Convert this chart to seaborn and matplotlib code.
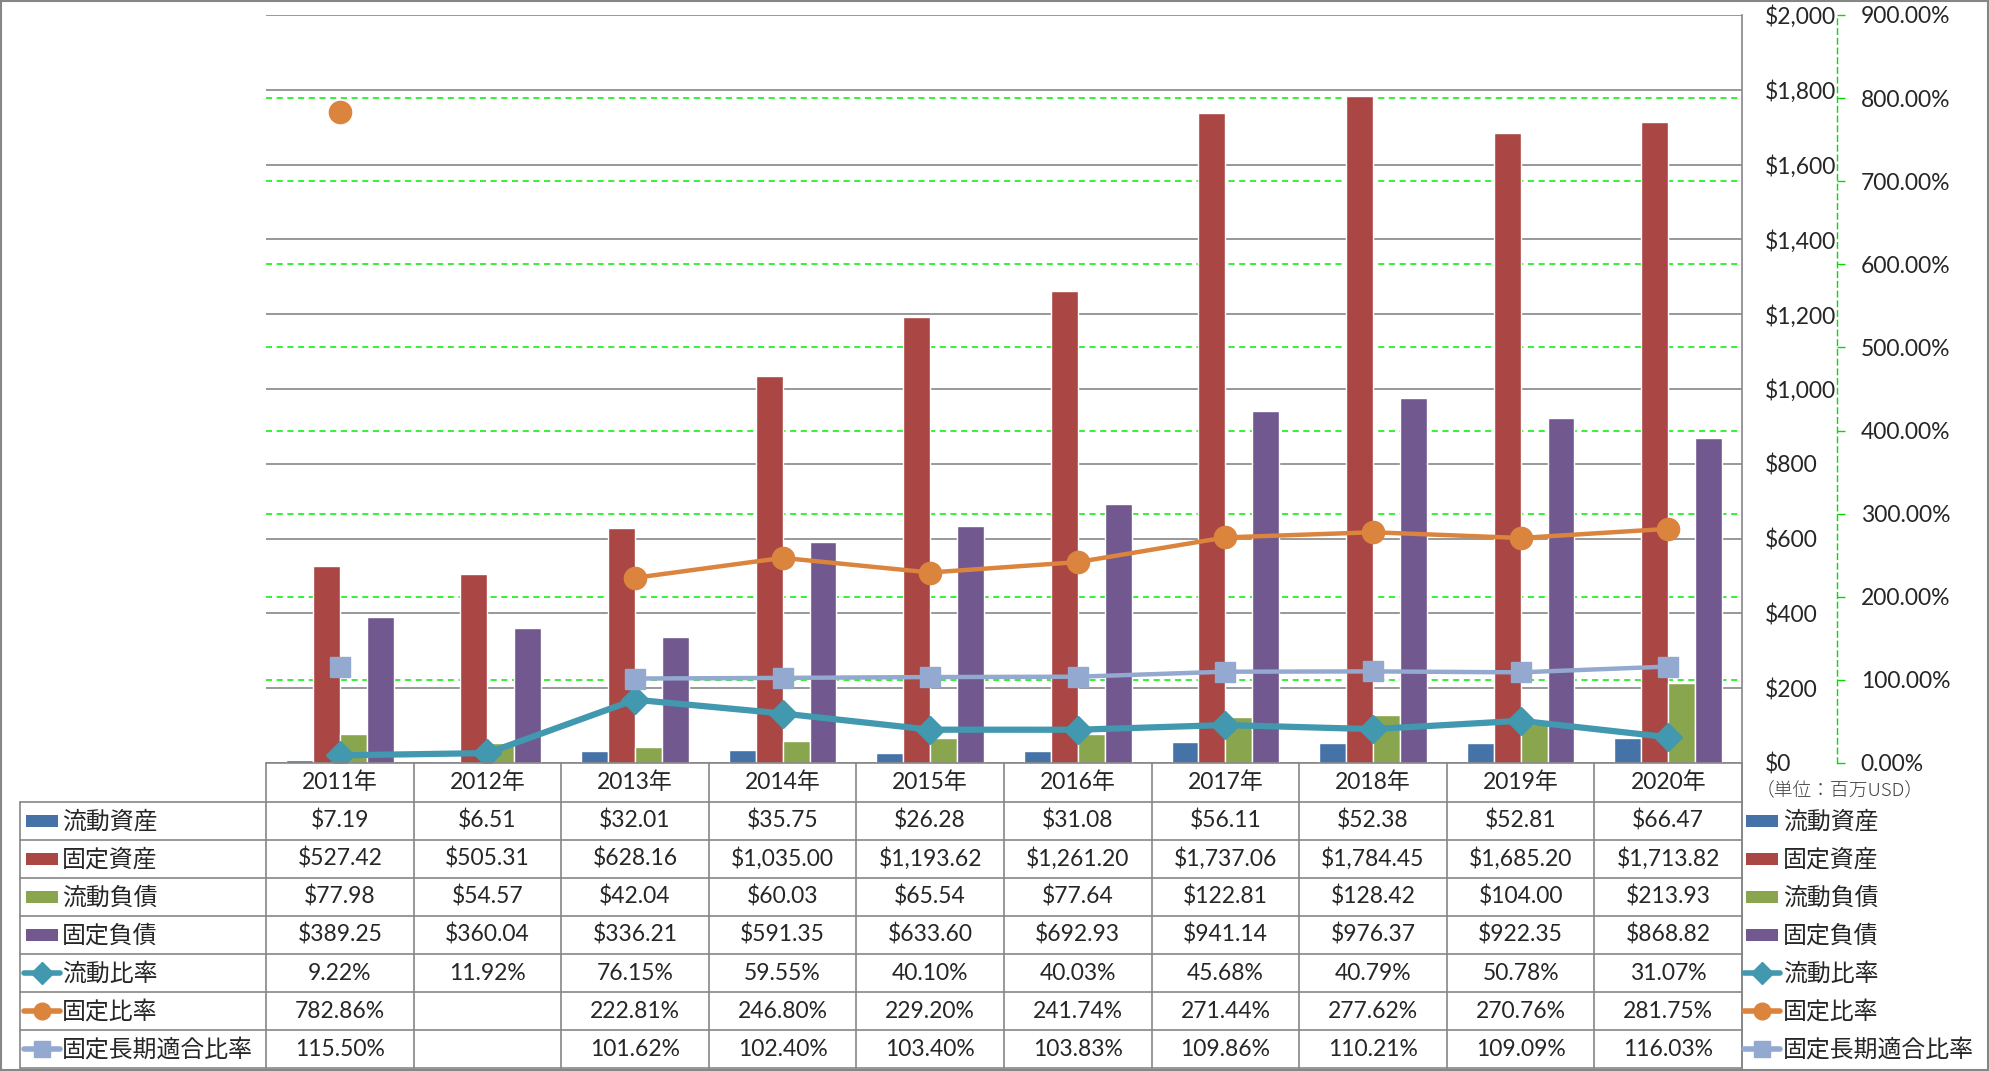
import matplotlib
matplotlib.use('Agg')

import numpy as np
import pandas as pd
import matplotlib.pyplot as plt
import seaborn as sns
from matplotlib.lines import Line2D
from matplotlib.patches import Rectangle

years = ['2011年', '2012年', '2013年', '2014年', '2015年', '2016年', '2017年', '2018年', '2019年', '2020年']
current_assets = [7.19, 6.51, 32.01, 35.75, 26.28, 31.08, 56.11, 52.38, 52.81, 66.47]
fixed_assets = [527.42, 505.31, 628.16, 1035.00, 1193.62, 1261.20, 1737.06, 1784.45, 1685.20, 1713.82]
current_liab = [77.98, 54.57, 42.04, 60.03, 65.54, 77.64, 122.81, 128.42, 104.00, 213.93]
fixed_liab = [389.25, 360.04, 336.21, 591.35, 633.60, 692.93, 941.14, 976.37, 922.35, 868.82]
current_ratio = [9.22, 11.92, 76.15, 59.55, 40.10, 40.03, 45.68, 40.79, 50.78, 31.07]
fixed_ratio = [782.86, np.nan, 222.81, 246.80, 229.20, 241.74, 271.44, 277.62, 270.76, 281.75]
fixed_lt_ratio = [115.50, np.nan, 101.62, 102.40, 103.40, 103.83, 109.86, 110.21, 109.09, 116.03]

bar_names = ['流動資産', '固定資産', '流動負債', '固定負債']
line_names = ['流動比率', '固定比率', '固定長期適合比率']
bar_colors = ['#4572A7', '#AA4643', '#89A54E', '#71588F']
line_colors = ['#4198AF', '#DB843D', '#93A9CF']
line_markers = ['D', 'o', 's']
line_ms = [14.5, 16, 15]

W, H = 1989, 1071


def fx(x):
    return x / W


def fy(y):
    return 1 - y / H


sns.set_style('white')
plt.rcParams['font.family'] = ['Lato', 'Noto Sans CJK JP']
FS = 16.5

df = pd.DataFrame({
    'year': years * 4,
    'item': sum([[n] * len(years) for n in bar_names], []),
    'value': current_assets + fixed_assets + current_liab + fixed_liab,
})

fig = plt.figure(figsize=(W / 100, H / 100), dpi=100)
ax = fig.add_axes([fx(266), fy(763), (1742 - 266) / W, (763 - 15) / H])

sns.barplot(data=df, x='year', y='value', hue='item', hue_order=bar_names,
            palette=bar_colors, width=0.73, gap=0, saturation=1, ax=ax, legend=False)
ax.set_xlim(-0.5, len(years) - 0.5)
ax.set_ylim(0, 2000)
ax.set_xlabel('')
ax.set_ylabel('')
ax.yaxis.grid(True, color='#868686', lw=1.2)
ax.set_axisbelow(True)
for s in ['top', 'left', 'bottom']:
    ax.spines[s].set_visible(False)
ax.spines['right'].set_color('#868686')
ax.spines['right'].set_linewidth(1.2)

# secondary axis for ratios
ax2 = ax.twinx()
ax2.set_ylim(0, 900)
pct_ticks = np.arange(0, 901, 100)
ax2.set_yticks(pct_ticks)
ax2.set_yticklabels([f'{v:.2f}%' for v in pct_ticks])
ax2.tick_params(axis='y', direction='out', length=6, width=1, color='#00DD00', pad=11, labelsize=FS)
for s in ['top', 'left', 'bottom']:
    ax2.spines[s].set_visible(False)
ax2.spines['right'].set_position(('outward', 68.4))
ax2.spines['right'].set_color('#00DD00')
ax2.spines['right'].set_linestyle((0, (4, 3)))
ax2.spines['right'].set_linewidth(1)
ax2.patch.set_visible(False)

# primary labels sit on the right too (set after twinx, which resets them)
ax.yaxis.tick_right()
ax.set_yticks(np.arange(0, 2001, 200))
ax.set_yticklabels([f'${v:,.0f}' for v in np.arange(0, 2001, 200)])
ax.tick_params(axis='y', length=0, pad=16.5, labelsize=FS, left=False, labelleft=False,
               right=False, labelright=True)
ax.tick_params(axis='x', length=0, labelbottom=False)

# green dashed secondary gridlines (drawn on primary axis so they stay behind bars)
for p in pct_ticks[1:-1]:
    ax.axhline(p * 2000 / 900, color='#00EE00', ls=(0, (4, 3)), lw=1.1, zorder=0.6)

xpos = np.arange(len(years))
ratios = [current_ratio, fixed_ratio, fixed_lt_ratio]
lws = [4.5, 3.2, 3.2]
for vals, c, m, ms, lw in zip(ratios, line_colors, line_markers, line_ms, lws):
    ax2.plot(xpos, vals, color=c, lw=lw, marker=m, ms=ms, mec=c, mfc=c, zorder=3)

# ---- data table ----
gray = '#868686'
rows_y = [763, 802, 840, 878, 916, 954, 992, 1030, 1068]
col_x = [266 + (1742 - 266) / 10 * k for k in range(11)]


def fline(x0, y0, x1, y1, **kw):
    fig.add_artist(Line2D([fx(x0), fx(x1)], [fy(y0), fy(y1)], transform=fig.transFigure,
                          color=gray, lw=1.2, **kw))


fline(266, 763, 1742, 763)
for y in rows_y[1:]:
    fline(20, y, 1742, y)
fline(20, 802, 20, 1068)
for x in col_x:
    fline(x, 763, x, 1068)
fline(1742, 763, 1742, 1068)

for i, yl in enumerate(years):
    cx = (col_x[i] + col_x[i + 1]) / 2
    fig.text(fx(cx), fy(782), yl, ha='center', va='center', fontsize=FS)

table_vals = [current_assets, fixed_assets, current_liab, fixed_liab,
              current_ratio, fixed_ratio, fixed_lt_ratio]
for r, vals in enumerate(table_vals):
    cy = (rows_y[r + 1] + rows_y[r + 2]) / 2
    for i, v in enumerate(vals):
        if np.isnan(v):
            continue
        txt = f'${v:,.2f}' if r < 4 else f'{v:.2f}%'
        cx = (col_x[i] + col_x[i + 1]) / 2
        fig.text(fx(cx), fy(cy), txt, ha='center', va='center', fontsize=FS)


# legend keys: left of table and right of table
def legend_key(x0, cy, r):
    if r < 4:
        fig.add_artist(Rectangle((fx(x0), fy(cy + 6)), 32 / W, 12 / H, transform=fig.transFigure,
                                 color=bar_colors[r], lw=0))
    else:
        k = r - 4
        fig.add_artist(Line2D([fx(x0 - 2), fx(x0 + 34)], [fy(cy), fy(cy)], transform=fig.transFigure,
                              color=line_colors[k], lw=4))
        fig.add_artist(Line2D([fx(x0 + 16)], [fy(cy)], transform=fig.transFigure, marker=line_markers[k],
                              ms=line_ms[k] * 0.75, color=line_colors[k]))


all_names = bar_names + line_names
for r, name in enumerate(all_names):
    cy = (rows_y[r + 1] + rows_y[r + 2]) / 2
    legend_key(26, cy, r)
    fig.text(fx(62), fy(cy), name, ha='left', va='center', fontsize=FS + 0.7)
    legend_key(1746, cy, r)
    fig.text(fx(1783), fy(cy), name, ha='left', va='center', fontsize=FS + 0.7)

fig.text(fx(1756), fy(790), '（単位：百万USD）', ha='left', va='center', fontsize=13.5,
         color='#404040', family=['Noto Sans CJK JP'], fontweight='light')

# chart border
fig.add_artist(Rectangle((0.0005, 0.001), 0.999, 0.998, transform=fig.transFigure,
                         fill=False, ec=gray, lw=1.5))

fig.savefig('out.png', dpi=100)
